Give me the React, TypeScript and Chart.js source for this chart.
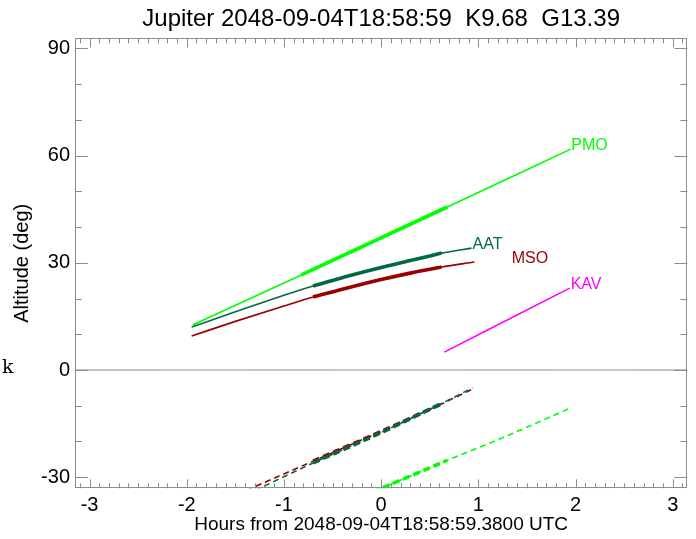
import React, { useEffect, useRef } from 'react';
import { Chart, registerables } from 'chart.js';

Chart.register(...registerables);

// ---- text ----
const TITLE = 'Jupiter 2048-09-04T18:58:59  K9.68  G13.39';
const X_TITLE = 'Hours from 2048-09-04T18:58:59.3800 UTC';
const Y_TITLE = 'Altitude (deg)';
const SIDE_MARK = 'k';

// ---- axes ----
const xTickValues = [-3, -2, -1, 0, 1, 2, 3];
const yTickValues = [-30, 0, 30, 60, 90];
const X_MIN = -3.15;
const X_MAX = 3.15;
const Y_MIN = -33.1;
const Y_MAX = 92.8;
const X_MINOR_STEP = 0.1;
const Y_MINOR_STEP = 10;

// ---- horizon ----
const horizonHours = [X_MIN, X_MAX];
const horizonAlt = [0, 0];

// ---- site names / colours ----
const siteNames = ['PMO', 'AAT', 'MSO', 'KAV'];
const siteColors = ['#00ff00', '#006a44', '#9b0000', '#ff00ff'];

// ---- target altitude (solid) ----
const pmoHours = [-1.94, -0.82, 0.68, 1.95];
const pmoAlt = [12.6, 26.6, 45.6, 61.8];
const pmoWindow = [1, 2];

const aatHours = [-1.95, -1.5, -1.0, -0.7, -0.3, 0.0, 0.3, 0.62, 0.93];
const aatAlt = [12.0, 16.3, 20.9, 23.5, 26.6, 28.7, 30.6, 32.7, 34.1];
const aatWindow = [3, 7];

const msoHours = [-1.95, -1.5, -1.0, -0.7, -0.3, 0.0, 0.3, 0.62, 0.96];
const msoAlt = [9.5, 13.6, 17.9, 20.4, 23.3, 25.3, 27.1, 28.8, 30.2];
const msoWindow = [3, 7];

const kavHours = [0.65, 1.94];
const kavAlt = [5.0, 22.9];
const kavWindow: number[] = [];

// ---- second quantity (dashed) ----
const pmoDashHours = [-1.94, -0.82, 0.0, 0.68, 1.22, 1.95];
const pmoDashAlt = [-54.0, -42.3, -33.1, -25.3, -19.3, -10.6];
const pmoDashWindow = [1, 3];

const aatDashHours = [-1.95, -1.25, -0.7, 0.0, 0.62, 0.94];
const aatDashAlt = [-42.0, -33.1, -26.0, -17.5, -9.4, -5.0];
const aatDashWindow = [2, 4];

const msoDashHours = [-1.95, -1.34, -0.7, 0.0, 0.62, 0.96];
const msoDashAlt = [-40.3, -33.1, -25.5, -17.2, -9.5, -5.1];
const msoDashWindow = [2, 4];

// ---- site labels (anchor in data units) ----
const labelHours = [1.957, 0.94, 1.343, 1.95];
const labelAlt = [61.5, 33.8, 29.9, 22.65];

const AXIS_COLOR = '#8c8c8c';
const FONT = "'Liberation Sans', Arial, sans-serif";

const pts = (h: number[], a: number[]) => h.map((v, i) => ({ x: v, y: a[i] }));
const winPts = (h: number[], a: number[], w: number[]) =>
  w.length ? pts(h.slice(w[0], w[1] + 1), a.slice(w[0], w[1] + 1)) : [];

const overlayPlugin = {
  id: 'overlay',
  afterDraw(chart: any) {
    const { ctx, chartArea: a, scales } = chart;
    const xs = scales.x;
    const ys = scales.y;
    ctx.save();
    ctx.strokeStyle = AXIS_COLOR;
    ctx.lineWidth = 1;
    // frame
    ctx.strokeRect(Math.round(a.left) + 0.5, Math.round(a.top) + 0.5,
      Math.round(a.right - a.left) - 1, Math.round(a.bottom - a.top) - 1);
    ctx.beginPath();
    // x ticks (minor + major), inward on bottom and top
    const nx = Math.round((X_MAX - X_MIN) / X_MINOR_STEP) + 2;
    const xStart = Math.ceil(X_MIN / X_MINOR_STEP);
    for (let i = 0; i < nx; i++) {
      const v = (xStart + i) * X_MINOR_STEP;
      if (v > X_MAX + 1e-9) break;
      const major = Math.abs(v - Math.round(v)) < 1e-6;
      const len = major ? 9 : 5;
      const px = Math.round(xs.getPixelForValue(v)) + 0.5;
      ctx.moveTo(px, a.bottom);
      ctx.lineTo(px, a.bottom - len);
      ctx.moveTo(px, a.top);
      ctx.lineTo(px, a.top + len);
    }
    // y ticks
    const yStart = Math.ceil(Y_MIN / Y_MINOR_STEP);
    for (let i = 0; ; i++) {
      const v = (yStart + i) * Y_MINOR_STEP;
      if (v > Y_MAX + 1e-9) break;
      const major = yTickValues.includes(v);
      const len = major ? 13 : 7;
      const py = Math.round(ys.getPixelForValue(v)) + 0.5;
      ctx.moveTo(a.left, py);
      ctx.lineTo(a.left + len, py);
      ctx.moveTo(a.right, py);
      ctx.lineTo(a.right - len, py);
    }
    ctx.stroke();

    // site labels
    ctx.font = `16px ${FONT}`;
    ctx.textAlign = 'left';
    ctx.textBaseline = 'alphabetic';
    siteNames.forEach((n, i) => {
      ctx.fillStyle = siteColors[i];
      ctx.fillText(n, xs.getPixelForValue(labelHours[i]), ys.getPixelForValue(labelAlt[i]));
    });

    // stray serif mark on the left
    ctx.fillStyle = '#000';
    ctx.font = "19px 'DejaVu Serif', serif";
    ctx.fillText(SIDE_MARK, 2, 373);
    ctx.restore();
  },
};

export default function App() {
  const ref = useRef<HTMLCanvasElement | null>(null);

  useEffect(() => {
    if (!ref.current) return;
    const thin = 1.6;
    const thick = 3.6;
    const solid = [
      { h: pmoHours, a: pmoAlt, w: pmoWindow, c: siteColors[0] },
      { h: aatHours, a: aatAlt, w: aatWindow, c: siteColors[1] },
      { h: msoHours, a: msoAlt, w: msoWindow, c: siteColors[2] },
      { h: kavHours, a: kavAlt, w: kavWindow, c: siteColors[3] },
    ];
    const dashed = [
      { h: pmoDashHours, a: pmoDashAlt, w: pmoDashWindow, c: siteColors[0] },
      { h: aatDashHours, a: aatDashAlt, w: aatDashWindow, c: siteColors[1] },
      { h: msoDashHours, a: msoDashAlt, w: msoDashWindow, c: siteColors[2] },
    ];
    const base = {
      pointRadius: 0,
      pointHoverRadius: 0,
      fill: false,
      cubicInterpolationMode: 'monotone' as const,
    };
    const datasets: any[] = [
      { ...base, data: pts(horizonHours, horizonAlt), borderColor: AXIS_COLOR, borderWidth: 1 },
    ];
    solid.forEach((s) => {
      datasets.push({ ...base, data: pts(s.h, s.a), borderColor: s.c, borderWidth: thin });
      if (s.w.length)
        datasets.push({ ...base, data: winPts(s.h, s.a, s.w), borderColor: s.c, borderWidth: thick });
    });
    dashed.forEach((s) => {
      datasets.push({ ...base, data: pts(s.h, s.a), borderColor: s.c, borderWidth: thin, borderDash: [6, 4] });
      datasets.push({ ...base, data: winPts(s.h, s.a, s.w), borderColor: s.c, borderWidth: thick, borderDash: [7, 4] });
    });

    const chart = new Chart(ref.current, {
      type: 'line',
      data: { datasets },
      plugins: [overlayPlugin],
      options: {
        animation: false,
        responsive: false,
        devicePixelRatio: 1,
        events: [],
        layout: { padding: { left: 0, right: 8.7, top: 0, bottom: 0 } },
        plugins: {
          legend: { display: false },
          tooltip: { enabled: false },
          title: {
            display: true,
            text: TITLE,
            fullSize: false,
            color: '#000',
            font: { family: FONT, size: 24, weight: 'normal', lineHeight: 1.2 },
            padding: { top: 5, bottom: 4.5 },
          },
        },
        scales: {
          x: {
            type: 'linear',
            min: X_MIN,
            max: X_MAX,
            grid: { display: false, drawTicks: false },
            border: { display: false },
            afterBuildTicks: (s: any) => {
              s.ticks = xTickValues.map((v) => ({ value: v }));
            },
            afterFit: (s: any) => {
              s.height = 50.7;
            },
            ticks: {
              color: '#000',
              font: { family: FONT, size: 20 },
              padding: 5,
              maxRotation: 0,
              autoSkip: false,
              callback: (v: any) => String(v),
            },
            title: {
              display: true,
              text: X_TITLE,
              color: '#000',
              font: { family: FONT, size: 19 },
              padding: { top: 0, bottom: 3 },
            },
          },
          y: {
            type: 'linear',
            min: Y_MIN,
            max: Y_MAX,
            grid: { display: false, drawTicks: false },
            border: { display: false },
            afterBuildTicks: (s: any) => {
              s.ticks = yTickValues.map((v) => ({ value: v }));
            },
            afterFit: (s: any) => {
              s.width = 75;
            },
            ticks: {
              color: '#000',
              font: { family: FONT, size: 20 },
              padding: 5,
              autoSkip: false,
              callback: (v: any) => String(v),
            },
            title: {
              display: true,
              text: Y_TITLE,
              color: '#000',
              font: { family: FONT, size: 20 },
              padding: { top: 10, bottom: 0 },
            },
          },
        },
      },
    });
    return () => chart.destroy();
  }, []);

  return (
    <div style={{ position: 'absolute', left: 0, top: 0, width: 696, height: 539, background: '#fff' }}>
      <canvas ref={ref} width={696} height={539} style={{ display: 'block', width: 696, height: 539 }} />
    </div>
  );
}
